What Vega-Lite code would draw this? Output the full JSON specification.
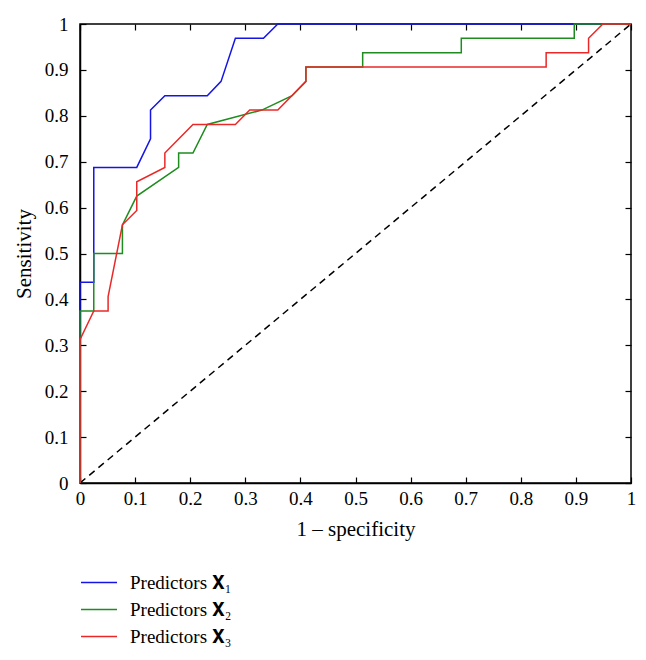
{
  "$schema": "https://vega.github.io/schema/vega-lite/v6.json",
  "width": 551,
  "height": 459,
  "autosize": {"type": "none"},
  "padding": {"left": 80, "top": 24, "right": 15, "bottom": 177},
  "background": "white",
  "config": {
    "view": {"stroke": "black", "strokeWidth": 1.5},
    "font": "Liberation Serif",
    "axis": {
      "labelFont": "Liberation Serif",
      "titleFont": "Liberation Serif",
      "labelFontSize": 19,
      "titleFontSize": 21,
      "labelColor": "black",
      "titleColor": "black",
      "titleFontWeight": "normal",
      "domainColor": "black",
      "domainWidth": 1.5,
      "tickColor": "black",
      "tickWidth": 1.2,
      "grid": false
    }
  },
  "datasets": {
    "roc": [
      {"series": "Predictors 𝐗₁", "i": 0, "fpr": 0, "tpr": 0},
      {"series": "Predictors 𝐗₁", "i": 1, "fpr": 0, "tpr": 0.4375},
      {"series": "Predictors 𝐗₁", "i": 2, "fpr": 0.025, "tpr": 0.4375},
      {"series": "Predictors 𝐗₁", "i": 3, "fpr": 0.025, "tpr": 0.6875},
      {"series": "Predictors 𝐗₁", "i": 4, "fpr": 0.103, "tpr": 0.6875},
      {"series": "Predictors 𝐗₁", "i": 5, "fpr": 0.128, "tpr": 0.75},
      {"series": "Predictors 𝐗₁", "i": 6, "fpr": 0.128, "tpr": 0.8125},
      {"series": "Predictors 𝐗₁", "i": 7, "fpr": 0.154, "tpr": 0.84375},
      {"series": "Predictors 𝐗₁", "i": 8, "fpr": 0.231, "tpr": 0.84375},
      {"series": "Predictors 𝐗₁", "i": 9, "fpr": 0.256, "tpr": 0.875},
      {"series": "Predictors 𝐗₁", "i": 10, "fpr": 0.282, "tpr": 0.96875},
      {"series": "Predictors 𝐗₁", "i": 11, "fpr": 0.333, "tpr": 0.96875},
      {"series": "Predictors 𝐗₁", "i": 12, "fpr": 0.359, "tpr": 1},
      {"series": "Predictors 𝐗₁", "i": 13, "fpr": 1, "tpr": 1},

      {"series": "Predictors 𝐗₂", "i": 0, "fpr": 0, "tpr": 0},
      {"series": "Predictors 𝐗₂", "i": 1, "fpr": 0, "tpr": 0.375},
      {"series": "Predictors 𝐗₂", "i": 2, "fpr": 0.025, "tpr": 0.375},
      {"series": "Predictors 𝐗₂", "i": 3, "fpr": 0.025, "tpr": 0.5},
      {"series": "Predictors 𝐗₂", "i": 4, "fpr": 0.077, "tpr": 0.5},
      {"series": "Predictors 𝐗₂", "i": 5, "fpr": 0.077, "tpr": 0.5625},
      {"series": "Predictors 𝐗₂", "i": 6, "fpr": 0.103, "tpr": 0.625},
      {"series": "Predictors 𝐗₂", "i": 7, "fpr": 0.179, "tpr": 0.6875},
      {"series": "Predictors 𝐗₂", "i": 8, "fpr": 0.179, "tpr": 0.71875},
      {"series": "Predictors 𝐗₂", "i": 9, "fpr": 0.205, "tpr": 0.71875},
      {"series": "Predictors 𝐗₂", "i": 10, "fpr": 0.231, "tpr": 0.78125},
      {"series": "Predictors 𝐗₂", "i": 11, "fpr": 0.33, "tpr": 0.8125},
      {"series": "Predictors 𝐗₂", "i": 12, "fpr": 0.385, "tpr": 0.84375},
      {"series": "Predictors 𝐗₂", "i": 13, "fpr": 0.41, "tpr": 0.875},
      {"series": "Predictors 𝐗₂", "i": 14, "fpr": 0.41, "tpr": 0.90625},
      {"series": "Predictors 𝐗₂", "i": 15, "fpr": 0.513, "tpr": 0.90625},
      {"series": "Predictors 𝐗₂", "i": 16, "fpr": 0.513, "tpr": 0.9375},
      {"series": "Predictors 𝐗₂", "i": 17, "fpr": 0.692, "tpr": 0.9375},
      {"series": "Predictors 𝐗₂", "i": 18, "fpr": 0.692, "tpr": 0.96875},
      {"series": "Predictors 𝐗₂", "i": 19, "fpr": 0.897, "tpr": 0.96875},
      {"series": "Predictors 𝐗₂", "i": 20, "fpr": 0.897, "tpr": 1},
      {"series": "Predictors 𝐗₂", "i": 21, "fpr": 1, "tpr": 1},

      {"series": "Predictors 𝐗₃", "i": 0, "fpr": 0, "tpr": 0},
      {"series": "Predictors 𝐗₃", "i": 1, "fpr": 0, "tpr": 0.3125},
      {"series": "Predictors 𝐗₃", "i": 2, "fpr": 0.025, "tpr": 0.375},
      {"series": "Predictors 𝐗₃", "i": 3, "fpr": 0.051, "tpr": 0.375},
      {"series": "Predictors 𝐗₃", "i": 4, "fpr": 0.051, "tpr": 0.40625},
      {"series": "Predictors 𝐗₃", "i": 5, "fpr": 0.077, "tpr": 0.5625},
      {"series": "Predictors 𝐗₃", "i": 6, "fpr": 0.103, "tpr": 0.59375},
      {"series": "Predictors 𝐗₃", "i": 7, "fpr": 0.103, "tpr": 0.65625},
      {"series": "Predictors 𝐗₃", "i": 8, "fpr": 0.154, "tpr": 0.6875},
      {"series": "Predictors 𝐗₃", "i": 9, "fpr": 0.154, "tpr": 0.71875},
      {"series": "Predictors 𝐗₃", "i": 10, "fpr": 0.205, "tpr": 0.78125},
      {"series": "Predictors 𝐗₃", "i": 11, "fpr": 0.282, "tpr": 0.78125},
      {"series": "Predictors 𝐗₃", "i": 12, "fpr": 0.308, "tpr": 0.8125},
      {"series": "Predictors 𝐗₃", "i": 13, "fpr": 0.359, "tpr": 0.8125},
      {"series": "Predictors 𝐗₃", "i": 14, "fpr": 0.41, "tpr": 0.875},
      {"series": "Predictors 𝐗₃", "i": 15, "fpr": 0.41, "tpr": 0.90625},
      {"series": "Predictors 𝐗₃", "i": 16, "fpr": 0.846, "tpr": 0.90625},
      {"series": "Predictors 𝐗₃", "i": 17, "fpr": 0.846, "tpr": 0.9375},
      {"series": "Predictors 𝐗₃", "i": 18, "fpr": 0.923, "tpr": 0.9375},
      {"series": "Predictors 𝐗₃", "i": 19, "fpr": 0.923, "tpr": 0.96875},
      {"series": "Predictors 𝐗₃", "i": 20, "fpr": 0.949, "tpr": 1},
      {"series": "Predictors 𝐗₃", "i": 21, "fpr": 1, "tpr": 1}
    ],
    "diag": [
      {"fpr": 0, "tpr": 0},
      {"fpr": 1, "tpr": 1}
    ]
  },
  "layer": [
    {
      "data": {"name": "diag"},
      "mark": {"type": "line", "color": "black", "strokeWidth": 1.5, "strokeDash": [7, 5], "clip": true},
      "encoding": {
        "x": {
          "field": "fpr", "type": "quantitative",
          "scale": {"domain": [0, 1], "nice": false, "zero": false},
          "axis": {"orient": "top", "labels": false, "title": null, "domain": false,
                   "values": [0, 0.1, 0.2, 0.3, 0.4, 0.5, 0.6, 0.7, 0.8, 0.9, 1], "tickSize": -6}
        },
        "y": {
          "field": "tpr", "type": "quantitative",
          "scale": {"domain": [0, 1], "nice": false, "zero": false},
          "axis": {"orient": "right", "labels": false, "title": null, "domain": false,
                   "values": [0, 0.1, 0.2, 0.3, 0.4, 0.5, 0.6, 0.7, 0.8, 0.9, 1], "tickSize": -6}
        }
      }
    },
    {
      "data": {"name": "roc"},
      "mark": {"type": "line", "strokeWidth": 1.5, "clip": false},
      "encoding": {
        "x": {
          "field": "fpr", "type": "quantitative",
          "axis": {"orient": "bottom", "title": "1 – specificity", "format": "~g",
                   "values": [0, 0.1, 0.2, 0.3, 0.4, 0.5, 0.6, 0.7, 0.8, 0.9, 1],
                   "tickSize": -6, "labelPadding": 12, "titlePadding": 10, "labelFlush": false}
        },
        "y": {
          "field": "tpr", "type": "quantitative",
          "axis": {"orient": "left", "title": "Sensitivity", "format": "~g",
                   "values": [0, 0.1, 0.2, 0.3, 0.4, 0.5, 0.6, 0.7, 0.8, 0.9, 1],
                   "tickSize": -6, "labelPadding": 18, "titlePadding": 10, "labelFlush": false}
        },
        "color": {
          "field": "series", "type": "nominal",
          "scale": {
            "domain": ["Predictors 𝐗₁", "Predictors 𝐗₂", "Predictors 𝐗₃"],
            "range": ["#1414e6", "#1e8c1e", "#ea2828"]
          },
          "legend": {
            "orient": "none", "legendX": 0, "legendY": 545,
            "title": null,
            "symbolType": "stroke", "symbolSize": 1296, "symbolStrokeWidth": 1.5,
            "labelFont": "Liberation Serif", "labelFontSize": 19, "labelColor": "black",
            "labelOffset": 12, "rowPadding": 0, "clipHeight": 27, "labelLimit": 300
          }
        },
        "order": {"field": "i", "type": "quantitative"}
      }
    }
  ],
  "resolve": {"axis": {"x": "independent", "y": "independent"}}
}
